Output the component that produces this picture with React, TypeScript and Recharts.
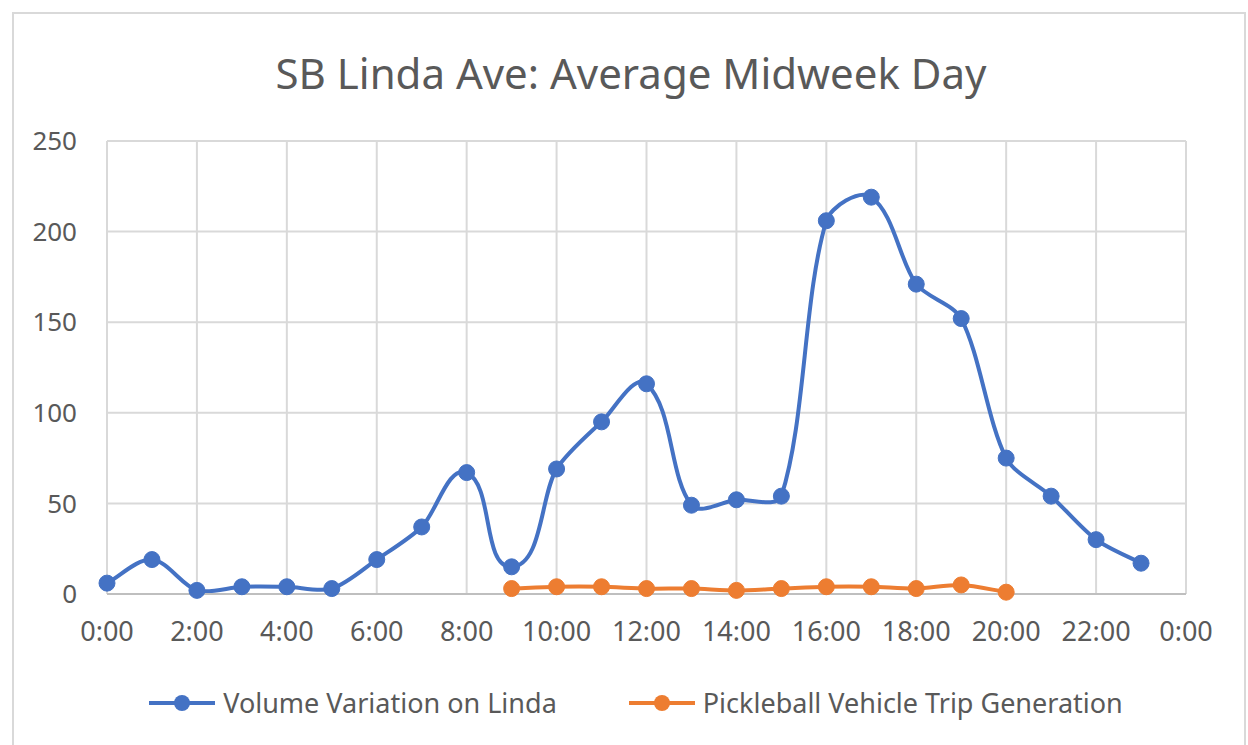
import { LineChart, Line, XAxis, YAxis, CartesianGrid } from 'recharts';

const hours = [0, 1, 2, 3, 4, 5, 6, 7, 8, 9, 10, 11, 12, 13, 14, 15, 16, 17, 18, 19, 20, 21, 22, 23];
const lindaVolume = [6, 19, 2, 4, 4, 3, 19, 37, 67, 15, 69, 95, 116, 49, 52, 54, 206, 219, 171, 152, 75, 54, 30, 17];
const pickleballTrips = [null, null, null, null, null, null, null, null, null, 3, 4, 4, 3, 3, 2, 3, 4, 4, 3, 5, 1, null, null, null];
const xTicks = [0, 2, 4, 6, 8, 10, 12, 14, 16, 18, 20, 22, 24];
const yTicks = [0, 50, 100, 150, 200, 250];

const data = hours.map((h, i) => ({ hour: h, linda: lindaVolume[i], pickle: pickleballTrips[i] }));

const BLUE = '#4472C4';
const ORANGE = '#ED7D31';
const FONT = '"Noto Sans", sans-serif';

// Excel-like smoothing: tangent along neighbours, length tied to the segment
const excelCurve = (context: any) => {
  let pts: number[][] = [];
  const unit = (a: number[], b: number[]) => {
    const dx = b[0] - a[0];
    const dy = b[1] - a[1];
    const l = Math.hypot(dx, dy) || 1;
    return [dx / l, dy / l];
  };
  return {
    areaStart() {},
    areaEnd() {},
    lineStart() {
      pts = [];
    },
    point(x: number, y: number) {
      pts.push([+x, +y]);
    },
    lineEnd() {
      if (!pts.length) return;
      context.moveTo(pts[0][0], pts[0][1]);
      for (let i = 0; i < pts.length - 1; i++) {
        const p0 = pts[i - 1] || pts[i];
        const p1 = pts[i];
        const p2 = pts[i + 1];
        const p3 = pts[i + 2] || p2;
        const seg = Math.hypot(p2[0] - p1[0], p2[1] - p1[1]) / 3.5;
        const t1 = unit(p0, p2);
        const t2 = unit(p1, p3);
        context.bezierCurveTo(
          p1[0] + t1[0] * seg,
          p1[1] + t1[1] * seg,
          p2[0] - t2[0] * seg,
          p2[1] - t2[1] * seg,
          p2[0],
          p2[1]
        );
      }
    },
  };
};

const fmtHour = (v: number) => `${v % 24}:00`;

const legendItems = [
  { c: BLUE, t: 'Volume Variation on Linda' },
  { c: ORANGE, t: 'Pickleball Vehicle Trip Generation' },
];

export default function App() {
  return (
    <div style={{ position: 'absolute', left: 0, top: 0, width: 1248, height: 745, background: '#fff', overflow: 'hidden' }}>
      <div
        style={{
          position: 'absolute',
          left: 12,
          top: 12,
          width: 1234,
          height: 745,
          border: '2px solid #D9D9D9',
          boxSizing: 'border-box',
        }}
      />
      <div
        style={{
          position: 'absolute',
          top: 44,
          left: 0,
          width: 1262,
          textAlign: 'center',
          fontFamily: FONT,
          fontSize: 42,
          color: '#595959',
        }}
      >
        SB Linda Ave: Average Midweek Day
      </div>
      <div style={{ position: 'absolute', left: 0, top: 0 }}>
        <LineChart width={1248} height={745} data={data} margin={{ top: 141, right: 62, bottom: 121, left: 47 }}>
          <CartesianGrid stroke="#D9D9D9" strokeWidth={2} />
          <XAxis
            dataKey="hour"
            type="number"
            domain={[0, 24]}
            ticks={xTicks}
            tickFormatter={fmtHour}
            height={30}
            axisLine={{ stroke: '#BFBFBF', strokeWidth: 2 }}
            tickLine={false}
            tickSize={0}
            tickMargin={28}
            tick={{ fill: '#595959', fontSize: 27, fontFamily: FONT }}
          />
          <YAxis
            width={60}
            domain={[0, 250]}
            ticks={yTicks}
            axisLine={false}
            tickLine={false}
            tickSize={0}
            tickMargin={30}
            tick={{ fill: '#595959', fontSize: 26, fontFamily: FONT }}
          />
          <Line
            dataKey="linda"
            name="Volume Variation on Linda"
            type={excelCurve as any}
            stroke={BLUE}
            strokeWidth={4}
            dot={{ r: 8, fill: BLUE, stroke: BLUE, strokeWidth: 1 }}
            isAnimationActive={false}
          />
          <Line
            dataKey="pickle"
            name="Pickleball Vehicle Trip Generation"
            type={excelCurve as any}
            stroke={ORANGE}
            strokeWidth={4}
            dot={{ r: 8, fill: ORANGE, stroke: ORANGE, strokeWidth: 1 }}
            isAnimationActive={false}
          />
        </LineChart>
      </div>
      <div
        style={{
          position: 'absolute',
          top: 684,
          left: 0,
          width: 1272,
          display: 'flex',
          justifyContent: 'center',
          gap: 72,
          fontFamily: FONT,
          fontSize: 27,
          color: '#595959',
        }}
      >
        {legendItems.map((it) => (
          <div key={it.t} style={{ display: 'flex', alignItems: 'center' }}>
            <svg width={66} height={20} style={{ marginRight: 8 }}>
              <line x1={0} y1={10} x2={66} y2={10} stroke={it.c} strokeWidth={4} />
              <circle cx={33} cy={10} r={8} fill={it.c} />
            </svg>
            <span>{it.t}</span>
          </div>
        ))}
      </div>
    </div>
  );
}
